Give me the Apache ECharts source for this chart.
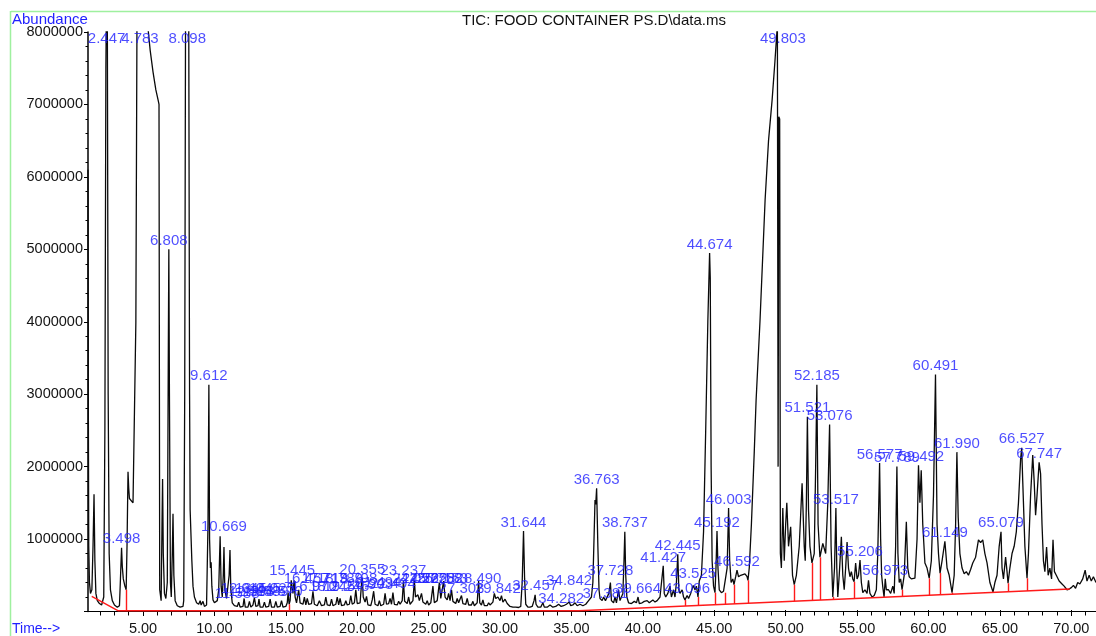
<!DOCTYPE html>
<html>
<head>
<meta charset="utf-8">
<script src="https://cdn.jsdelivr.net/npm/echarts@6/dist/echarts.min.js"></script>
<style>
  html, body { margin: 0; padding: 0; background: #fff; }
  #chart { width: 1096px; height: 636px; }
</style>
</head>
<body>
<div id="chart"></div>
<script>
// Total ion chromatogram: [retention time (min), abundance]
const tic = [
  [1.148, 6100000], [1.17, 3000000], [1.2, 900000], [1.25, 400000], [1.32, 250000], [1.42, 300000],
  [1.5, 900000], [1.57, 1620000], [1.63, 700000], [1.7, 250000], [1.8, 150000], [1.95, 110000],
  [2.1, 90000], [2.25, 200000], [2.33, 2500000], [2.4, 7500000], [2.447, 8600000], [2.5, 8400000],
  [2.56, 3000000], [2.63, 800000], [2.72, 300000], [2.85, 150000], [3.0, 90000], [3.2, 60000],
  [3.35, 80000], [3.42, 450000], [3.498, 880000], [3.55, 620000], [3.62, 450000], [3.72, 360000],
  [3.82, 300000], [3.88, 900000], [3.95, 1930000], [4.0, 1700000], [4.05, 1560000], [4.15, 1540000],
  [4.3, 1500000], [4.42, 1480000], [4.5, 4000000], [4.58, 8300000], [4.783, 8600000], [5.0, 8500000],
  [5.35, 8050000], [5.5, 7750000], [5.7, 7450000], [5.9, 7200000], [6.07, 7050000], [6.12, 7000000],
  [6.17, 300000], [6.27, 150000], [6.33, 1200000], [6.37, 1830000], [6.42, 800000], [6.5, 250000],
  [6.6, 180000], [6.7, 400000], [6.77, 3500000], [6.808, 5000000], [6.85, 3000000], [6.92, 400000],
  [6.98, 200000], [7.05, 800000], [7.1, 1350000], [7.16, 500000], [7.25, 150000], [7.4, 80000],
  [7.6, 60000], [7.8, 70000], [7.85, 150000], [7.92, 3000000], [7.98, 8400000], [8.098, 8700000],
  [8.2, 8400000], [8.26, 3000000], [8.3, 1400000], [8.36, 1390000], [8.42, 700000], [8.5, 350000],
  [8.6, 200000], [8.75, 120000], [8.9, 100000], [9.0, 150000], [9.07, 90000], [9.2, 140000],
  [9.3, 70000], [9.45, 90000], [9.55, 1200000], [9.612, 3130000], [9.66, 1000000], [9.72, 600000],
  [9.77, 680000], [9.82, 350000], [9.9, 160000], [10.0, 120000], [10.1, 130000], [10.2, 150000],
  [10.3, 300000], [10.4, 1040000], [10.47, 350000], [10.55, 200000], [10.62, 500000], [10.669, 890000],
  [10.73, 300000], [10.85, 180000], [10.95, 200000], [11.03, 500000], [11.09, 850000], [11.15, 300000],
  [11.25, 120000], [11.4, 80000],
  [11.6, 70000], [11.7, 130000], [11.8, 60000], [12.0, 70000], [12.08, 180000], [12.16, 60000],
  [12.35, 60000], [12.45, 140000], [12.55, 60000], [12.7, 90000], [12.8, 190000], [12.9, 70000],
  [13.05, 80000], [13.12, 170000], [13.2, 60000], [13.4, 60000], [13.5, 130000], [13.6, 60000],
  [13.8, 70000], [13.9, 170000], [14.0, 60000], [14.2, 60000], [14.3, 140000], [14.4, 60000],
  [14.6, 70000], [14.7, 150000], [14.8, 60000], [15.0, 70000], [15.1, 120000], [15.16, 260000],
  [15.23, 100000], [15.3, 150000], [15.38, 430000], [15.445, 450000], [15.5, 250000], [15.58, 430000],
  [15.65, 200000], [15.75, 120000], [15.9, 300000], [16.0, 120000], [16.2, 100000], [16.3, 200000],
  [16.4, 90000], [16.5, 180000], [16.6, 100000], [16.8, 110000], [16.9, 280000], [17.0, 100000],
  [17.2, 80000], [17.35, 150000], [17.5, 80000], [17.7, 90000], [17.8, 200000], [17.9, 90000],
  [18.1, 80000], [18.2, 170000], [18.3, 80000], [18.5, 100000], [18.6, 200000], [18.7, 90000],
  [18.8, 180000], [18.9, 80000], [19.1, 90000], [19.2, 150000], [19.3, 90000], [19.45, 100000],
  [19.55, 220000], [19.65, 100000], [19.8, 120000], [19.9, 300000], [20.0, 110000], [20.2, 120000],
  [20.3, 380000], [20.355, 460000], [20.42, 200000], [20.55, 130000], [20.65, 210000], [20.75, 90000],
  [20.95, 80000], [21.05, 160000], [21.15, 280000], [21.25, 100000], [21.45, 80000], [21.55, 150000],
  [21.65, 80000], [21.85, 100000], [21.95, 250000], [22.05, 100000], [22.2, 110000], [22.3, 180000],
  [22.4, 100000], [22.5, 260000], [22.6, 100000], [22.8, 90000], [22.9, 140000], [23.0, 100000],
  [23.15, 150000], [23.237, 420000], [23.32, 140000], [23.5, 110000], [23.6, 200000], [23.7, 100000],
  [23.9, 150000], [24.0, 430000], [24.08, 200000], [24.25, 230000], [24.35, 150000], [24.5, 250000],
  [24.6, 130000], [24.8, 100000], [24.9, 150000], [25.0, 90000], [25.15, 120000], [25.3, 350000],
  [25.4, 120000], [25.6, 150000], [25.75, 400000], [25.85, 180000], [26.05, 420000], [26.15, 200000],
  [26.3, 160000], [26.4, 250000], [26.5, 150000], [26.6, 300000], [26.7, 140000], [26.9, 110000],
  [27.0, 180000], [27.1, 120000], [27.3, 220000], [27.4, 110000], [27.6, 100000], [27.7, 180000],
  [27.8, 90000], [28.0, 90000], [28.1, 140000], [28.2, 80000], [28.4, 120000], [28.5, 420000],
  [28.58, 120000], [28.7, 90000], [28.8, 160000], [28.9, 80000], [29.1, 80000], [29.2, 120000],
  [29.3, 90000], [29.5, 130000], [29.6, 250000], [29.7, 180000], [29.85, 200000], [30.0, 150000],
  [30.1, 220000], [30.2, 130000], [30.35, 170000], [30.5, 110000], [30.7, 70000], [30.9, 60000],
  [31.1, 60000], [31.3, 55000], [31.45, 70000], [31.55, 400000], [31.644, 1110000], [31.72, 450000],
  [31.8, 100000], [31.95, 60000], [32.1, 60000], [32.25, 70000], [32.38, 150000], [32.457, 230000],
  [32.52, 100000], [32.65, 60000], [32.85, 60000], [33.0, 120000], [33.1, 60000], [33.3, 60000],
  [33.5, 90000], [33.7, 60000], [33.9, 70000], [34.1, 100000], [34.282, 70000], [34.45, 80000],
  [34.65, 100000], [34.842, 130000], [34.95, 80000], [35.1, 90000], [35.25, 120000], [35.4, 80000],
  [35.6, 100000], [35.8, 80000], [36.0, 100000], [36.2, 150000], [36.4, 200000], [36.5, 400000],
  [36.58, 1000000], [36.65, 1540000], [36.7, 1480000], [36.763, 1700000], [36.85, 900000], [36.93, 300000],
  [37.0, 180000], [37.15, 150000], [37.25, 200000], [37.381, 150000], [37.5, 150000], [37.62, 250000],
  [37.728, 400000], [37.8, 150000], [37.95, 120000], [38.05, 200000], [38.15, 120000], [38.3, 300000],
  [38.4, 150000], [38.6, 250000], [38.68, 700000], [38.737, 1100000], [38.8, 500000], [38.88, 200000],
  [39.0, 120000], [39.2, 110000], [39.4, 140000], [39.55, 120000], [39.664, 200000], [39.75, 110000],
  [39.95, 120000], [40.1, 140000], [40.3, 150000], [40.45, 120000], [40.7, 160000], [40.85, 130000],
  [41.0, 150000], [41.2, 200000], [41.32, 180000], [41.427, 630000], [41.5, 250000], [41.6, 200000],
  [41.75, 250000], [41.9, 350000], [42.0, 200000], [42.15, 300000], [42.25, 200000], [42.35, 400000],
  [42.445, 790000], [42.52, 300000], [42.6, 250000], [42.75, 300000], [42.85, 200000], [42.95, 160000],
  [43.1, 220000], [43.2, 180000], [43.35, 250000], [43.525, 360000], [43.65, 300000], [43.75, 350000],
  [43.86, 200000], [43.95, 420000], [44.1, 500000], [44.25, 1100000], [44.4, 2500000], [44.55, 4000000],
  [44.674, 4950000], [44.72, 4600000], [44.78, 2000000], [44.85, 700000], [44.95, 350000], [45.05, 260000],
  [45.12, 600000], [45.192, 1110000], [45.26, 600000], [45.35, 300000], [45.5, 260000], [45.65, 280000],
  [45.75, 260000], [45.9, 600000], [46.003, 1430000], [46.08, 700000], [46.18, 400000], [46.3, 450000],
  [46.38, 370000], [46.5, 480000], [46.592, 570000], [46.7, 480000], [46.85, 500000], [47.0, 510000],
  [47.15, 520000], [47.3, 480000], [47.36, 430000], [47.45, 600000], [47.6, 1200000], [47.8, 2200000],
  [47.93, 2920000], [48.2, 4000000], [48.56, 5680000], [48.8, 6500000], [49.05, 7060000], [49.25, 7600000],
  [49.42, 8100000], [49.47, 2000000], [49.52, 6830000], [49.58, 6800000], [49.63, 800000], [49.7, 600000],
  [49.8, 1430000], [49.9, 700000], [50.0, 1200000], [50.08, 1500000], [50.2, 900000], [50.35, 1170000],
  [50.48, 500000], [50.6, 370000], [50.75, 500000], [50.95, 900000], [51.15, 1770000], [51.3, 900000],
  [51.37, 700000], [51.45, 1500000], [51.521, 2690000], [51.6, 1400000], [51.7, 900000], [51.84, 670000],
  [52.0, 800000], [52.1, 2000000], [52.185, 3130000], [52.27, 1200000], [52.4, 750000], [52.6, 940000],
  [52.8, 800000], [52.95, 1500000], [53.076, 2580000], [53.18, 900000], [53.3, 200000], [53.42, 600000],
  [53.517, 1430000], [53.58, 600000], [53.65, 200000], [53.75, 500000], [53.9, 1030000], [54.0, 500000],
  [54.1, 300000], [54.2, 600000], [54.3, 960000], [54.4, 600000], [54.5, 480000], [54.6, 550000],
  [54.7, 450000], [54.79, 410000], [54.9, 670000], [55.0, 450000], [55.1, 500000], [55.206, 710000],
  [55.3, 400000], [55.4, 260000], [55.55, 300000], [55.7, 250000], [55.8, 430000], [55.9, 250000],
  [56.05, 200000], [56.2, 220000], [56.35, 300000], [56.45, 800000], [56.577, 2050000], [56.65, 1000000],
  [56.72, 500000], [56.8, 340000], [56.89, 200000], [56.973, 450000], [57.05, 300000], [57.2, 300000],
  [57.35, 250000], [57.5, 350000], [57.6, 250000], [57.7, 900000], [57.789, 2000000], [57.86, 800000],
  [57.95, 400000], [58.05, 450000], [58.15, 300000], [58.3, 500000], [58.45, 1240000], [58.55, 600000],
  [58.65, 480000], [58.8, 450000], [59.05, 460000], [59.2, 1000000], [59.3, 2020000], [59.4, 1500000],
  [59.492, 1950000], [59.6, 1200000], [59.75, 670000], [59.9, 600000], [60.05, 460000], [60.2, 700000],
  [60.35, 1600000], [60.491, 3270000], [60.6, 1200000], [60.7, 800000], [60.81, 530000], [60.95, 700000],
  [61.149, 970000], [61.3, 600000], [61.45, 500000], [61.65, 260000], [61.8, 500000], [61.9, 1200000],
  [61.99, 2200000], [62.08, 1300000], [62.2, 800000], [62.35, 600000], [62.5, 520000], [62.65, 550000],
  [62.8, 500000], [62.95, 580000], [63.1, 670000], [63.3, 750000], [63.5, 990000], [63.65, 950000],
  [63.8, 990000], [63.95, 800000], [64.1, 670000], [64.3, 400000], [64.52, 270000], [64.65, 400000],
  [64.8, 500000], [64.95, 900000], [65.079, 1100000], [65.15, 600000], [65.25, 450000], [65.4, 750000],
  [65.5, 550000], [65.57, 390000], [65.7, 600000], [65.85, 800000], [66.0, 900000], [66.15, 1100000],
  [66.3, 1500000], [66.45, 2100000], [66.527, 2260000], [66.6, 1800000], [66.75, 900000], [66.9, 460000],
  [67.0, 800000], [67.15, 1600000], [67.3, 2160000], [67.4, 1800000], [67.5, 1330000], [67.6, 1600000],
  [67.747, 2060000], [67.85, 1900000], [67.95, 1200000], [68.05, 700000], [68.15, 550000], [68.27, 890000],
  [68.38, 500000], [68.5, 600000], [68.62, 450000], [68.72, 990000], [68.82, 550000], [68.95, 500000],
  [69.15, 420000], [69.35, 380000], [69.5, 350000], [69.7, 300000], [69.85, 310000], [70.0, 330000],
  [70.15, 360000], [70.3, 320000], [70.45, 400000], [70.6, 380000], [70.8, 450000], [70.97, 570000],
  [71.1, 420000], [71.25, 500000], [71.4, 420000], [71.55, 480000], [71.73, 400000]
];

// Integrated peaks: retention time label and the apex height it sits on
const peakLabels = [
  '2.447', '3.498', '4.783', '6.808', '8.098', '9.612', '10.669',
  '11.588', '12.045', '12.593', '13.045', '13.589', '14.025', '14.570',
  '15.445', '16.457', '16.970', '17.713', '18.245', '18.789', '19.245', '19.798',
  '20.355', '20.903', '21.494', '22.494', '23.237', '24.057', '24.722', '25.258',
  '25.758', '26.153', '27.303', '28.490', '29.842', '31.644', '32.457', '34.282',
  '34.842', '36.763', '37.381', '37.728', '38.737', '39.664', '41.427', '42.445',
  '43.096', '43.525', '44.674', '45.192', '46.003', '46.592', '49.803', '51.521',
  '52.185', '53.076', '53.517', '55.206', '56.577', '56.973', '57.789', '59.492',
  '60.491', '61.149', '61.990', '65.079', '66.527', '67.747'
];
const peakTops = [
  8000000, 880000, 8000000, 5000000, 8000000, 3130000, 1050000,
  120000, 200000, 150000, 200000, 160000, 190000, 160000,
  450000, 330000, 220000, 330000, 220000, 330000, 220000, 330000,
  460000, 250000, 280000, 270000, 440000, 340000, 340000, 340000,
  340000, 340000, 200000, 330000, 200000, 1110000, 230000, 60000,
  300000, 1700000, 120000, 450000, 1100000, 200000, 630000, 790000,
  200000, 400000, 4950000, 1110000, 1430000, 570000, 8000000, 2690000,
  3130000, 2580000, 1430000, 710000, 2050000, 450000, 2000000, 2020000,
  3270000, 970000, 2200000, 1100000, 2260000, 2060000
];

// Integration baseline and peak-split drop lines
const baseline = [[1.41, 210000], [3.27, 10000], [35.5, 10000], [69.9, 310000]];
const dropTimes = [3.82, 15.23, 42.95, 43.86, 45.05, 45.75, 46.38, 47.36, 50.6, 51.84, 52.4,
  53.3, 54.79, 56.89, 58.15, 60.05, 60.81, 61.65, 64.52, 65.57, 66.9, 69.7];

// Axis ticks
const timeTicks = [5, 10, 15, 20, 25, 30, 35, 40, 45, 50, 55, 60, 65, 70];
const minuteTicks = [2, 3, 4, 5, 6, 7, 8, 9, 10, 11, 12, 13, 14, 15, 16, 17, 18, 19, 20, 21, 22, 23,
  24, 25, 26, 27, 28, 29, 30, 31, 32, 33, 34, 35, 36, 37, 38, 39, 40, 41, 42, 43, 44, 45, 46, 47, 48,
  49, 50, 51, 52, 53, 54, 55, 56, 57, 58, 59, 60, 61, 62, 63, 64, 65, 66, 67, 68, 69, 70, 71];

const T_MIN = 1.148, T_MAX = 71.73, A_MAX = 8000000;
const FONT = '"Liberation Sans", Arial, Helvetica, sans-serif';
const LABEL_BLUE = '#1f1fff';

function valueAt(points, t) {
  for (let i = 0; i < points.length - 1; i++) {
    const a = points[i], b = points[i + 1];
    if (t >= a[0] && t <= b[0]) {
      return a[1] + (b[1] - a[1]) * (t - a[0]) / (b[0] - a[0]);
    }
  }
  return points[points.length - 1][1];
}

const dropLines = dropTimes.map(t => ({ coords: [[t, valueAt(baseline, t)], [t, valueAt(tic, t)]] }));

const labelPoints = peakLabels.map((s, i) => ({
  name: s,
  value: [parseFloat(s), peakTops[i]],
  label: peakTops[i] >= A_MAX ? { position: 'bottom', distance: -1 } : { position: 'top', distance: 1 }
}));

const gridBox = { left: 88, right: 0, top: 32, bottom: 24.5 };

const chart = echarts.init(document.getElementById('chart'), null, { renderer: 'canvas' });
chart.setOption({
  animation: false,
  backgroundColor: '#ffffff',
  grid: [Object.assign({}, gridBox), Object.assign({}, gridBox)],
  xAxis: [
    {
      type: 'value', gridIndex: 0, min: T_MIN, max: T_MAX,
      axisLine: { show: true, onZero: false, lineStyle: { color: '#000', width: 1.2 } },
      axisTick: { show: true, customValues: minuteTicks, length: 4, lineStyle: { color: '#000' } },
      axisLabel: { show: false },
      splitLine: { show: false }
    },
    {
      type: 'value', gridIndex: 1, min: T_MIN, max: T_MAX,
      axisLine: { show: false, onZero: false },
      axisTick: { show: true, customValues: timeTicks, length: 6, lineStyle: { color: '#000' } },
      axisLabel: {
        show: true, customValues: timeTicks, margin: 11,
        formatter: v => Number(v).toFixed(2),
        color: '#141414', fontSize: 14.5, fontFamily: FONT
      },
      splitLine: { show: false }
    }
  ],
  yAxis: [
    {
      type: 'value', gridIndex: 0, min: 0, max: A_MAX, interval: 1000000,
      axisLine: { show: true, lineStyle: { color: '#000', width: 1.5 } },
      axisTick: { show: true, length: 4, lineStyle: { color: '#000' } },
      minorTick: { show: true, splitNumber: 5, length: 2.5, lineStyle: { color: '#000' } },
      axisLabel: {
        margin: 5, formatter: v => (v === 0 ? '' : String(v)),
        color: '#141414', fontSize: 14.5, fontFamily: FONT
      },
      splitLine: { show: false }
    },
    { type: 'value', gridIndex: 1, min: 0, max: A_MAX, show: false }
  ],
  series: [
    {
      name: 'TIC', type: 'line', xAxisIndex: 0, yAxisIndex: 0,
      data: tic, showSymbol: false, symbol: 'none', clip: true,
      lineStyle: { color: '#0a0a0a', width: 1.3 }, z: 2
    },
    {
      name: 'baseline', type: 'line', xAxisIndex: 0, yAxisIndex: 0,
      data: baseline, showSymbol: false, symbol: 'none',
      lineStyle: { color: '#ff1a1a', width: 1.4 }, z: 3
    },
    {
      name: 'drops', type: 'lines', coordinateSystem: 'cartesian2d', xAxisIndex: 0, yAxisIndex: 0,
      data: dropLines, lineStyle: { color: '#ff1a1a', width: 1.4, opacity: 1 }, z: 3
    },
    {
      name: 'peaks', type: 'scatter', xAxisIndex: 0, yAxisIndex: 0,
      data: labelPoints, symbolSize: 0, z: 5,
      label: {
        show: true, formatter: '{b}', color: LABEL_BLUE, fontSize: 15, fontFamily: FONT
      }
    }
  ],
  graphic: [
    { type: 'line', shape: { x1: 11, y1: 11.5, x2: 1096, y2: 11.5 }, style: { stroke: '#9ff09f', lineWidth: 1.5 }, silent: true },
    { type: 'line', shape: { x1: 10.5, y1: 11, x2: 10.5, y2: 636 }, style: { stroke: '#9ff09f', lineWidth: 1.5 }, silent: true },
    { type: 'text', x: 12, y: 20, style: { text: 'Abundance', fill: LABEL_BLUE, font: '15px ' + FONT, verticalAlign: 'middle' } },
    { type: 'text', x: 12, y: 629, style: { text: 'Time-->', fill: LABEL_BLUE, font: '14px ' + FONT, verticalAlign: 'middle' } },
    { type: 'text', x: 594, y: 20.5, style: { text: 'TIC: FOOD CONTAINER PS.D\\data.ms', fill: '#111', font: '15px ' + FONT, align: 'center', verticalAlign: 'middle' } }
  ]
});
</script>
</body>
</html>
